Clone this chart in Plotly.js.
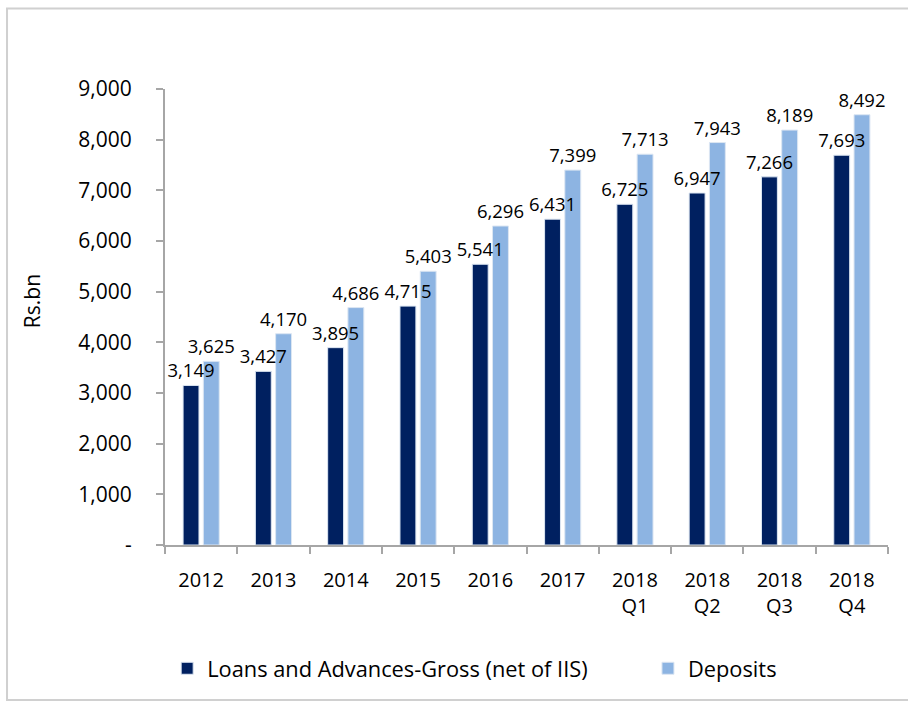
<!DOCTYPE html>
<html>
<head>
<meta charset="utf-8">
<script src="https://cdn.plot.ly/plotly-3.0.1.min.js"></script>
<style>
  html, body { margin: 0; padding: 0; background: #fff; }
  #chart { width: 908px; height: 701px; }
</style>
</head>
<body>
<div id="chart"></div>
<script>
const categories = ["2012", "2013", "2014", "2015", "2016", "2017", "2018<br>Q1", "2018<br>Q2", "2018<br>Q3", "2018<br>Q4"];
const loans = [3149, 3427, 3895, 4715, 5541, 6431, 6725, 6947, 7266, 7693];
const deposits = [3625, 4170, 4686, 5403, 6296, 7399, 7713, 7943, 8189, 8492];
const yTickVals = [0, 1000, 2000, 3000, 4000, 5000, 6000, 7000, 8000, 9000];
const yTickText = ["-", "1,000", "2,000", "3,000", "4,000", "5,000", "6,000", "7,000", "8,000", "9,000"];
const seriesNames = ["Loans and Advances-Gross (net of IIS)", "Deposits"];

const FONT = "Open Sans, sans-serif";
const labelFont = { family: FONT, size: 18.5, color: "#000" };
const legendFont = { family: FONT, size: 21.8, color: "#000" };

const data = [
  {
    type: "bar",
    name: seriesNames[1],
    legend: "legend2",
    x: categories,
    y: deposits,
    offset: 0.03,
    width: 0.22,
    marker: { color: "#8DB4E2", line: { color: "#DCE6F2", width: 1 } },
    texttemplate: "%{y:,.0f}",
    textposition: "outside",
    constraintext: "none",
    cliponaxis: false,
    textfont: labelFont,
    hoverinfo: "x+y+name"
  },
  {
    type: "bar",
    name: seriesNames[0],
    legend: "legend",
    x: categories,
    y: loans,
    offset: -0.25,
    width: 0.22,
    marker: { color: "#002060", line: { color: "#DCE6F2", width: 1 } },
    texttemplate: "%{y:,.0f}",
    textposition: "outside",
    constraintext: "none",
    cliponaxis: false,
    textfont: labelFont,
    hoverinfo: "x+y+name"
  }
];

const layout = {
  width: 908,
  height: 701,
  margin: { l: 165, r: 20, t: 89, b: 153 },
  paper_bgcolor: "#fff",
  plot_bgcolor: "#fff",
  font: { family: FONT, size: 20, color: "#000" },
  barmode: "overlay",
  showlegend: true,
  legend: {
    orientation: "h",
    x: 0.003,
    xanchor: "left",
    y: -0.225,
    yanchor: "top",
    font: legendFont,
    itemclick: false
  },
  legend2: {
    orientation: "h",
    x: 0.668,
    xanchor: "left",
    y: -0.225,
    yanchor: "top",
    font: legendFont,
    itemclick: false
  },
  xaxis: {
    type: "category",
    showline: true,
    linecolor: "#A6A6A6",
    linewidth: 2,
    ticks: "outside",
    tickson: "boundaries",
    ticklen: 7,
    tickwidth: 2,
    tickcolor: "#A6A6A6",
    ticklabelstandoff: 16,
    showgrid: false,
    zeroline: false,
    tickfont: { family: FONT, size: 20, color: "#000" }
  },
  yaxis: {
    range: [0, 9000],
    tickvals: yTickVals,
    ticktext: yTickText,
    showline: true,
    linecolor: "#A6A6A6",
    linewidth: 2,
    ticks: "outside",
    ticklen: 7,
    tickwidth: 2,
    tickcolor: "#A6A6A6",
    ticklabelstandoff: 20,
    showgrid: false,
    zeroline: false,
    tickfont: { family: FONT, size: 21, color: "#000" }
  },
  annotations: [
    {
      text: "Rs.bn",
      xref: "paper", yref: "paper",
      x: -0.183, y: 0.534,
      xanchor: "center", yanchor: "middle",
      textangle: -90,
      showarrow: false,
      font: { family: FONT, size: 21, color: "#000" }
    }
  ],
  shapes: [
    {
      type: "rect",
      xref: "paper", yref: "paper",
      x0: -0.2185, x1: 1.06,
      y0: -0.34, y1: 1.1765,
      line: { color: "#D0D0D0", width: 2 },
      fillcolor: "rgba(0,0,0,0)",
      layer: "below"
    }
  ]
};

Plotly.newPlot("chart", data, layout, { displayModeBar: false, staticPlot: true });
</script>
</body>
</html>
